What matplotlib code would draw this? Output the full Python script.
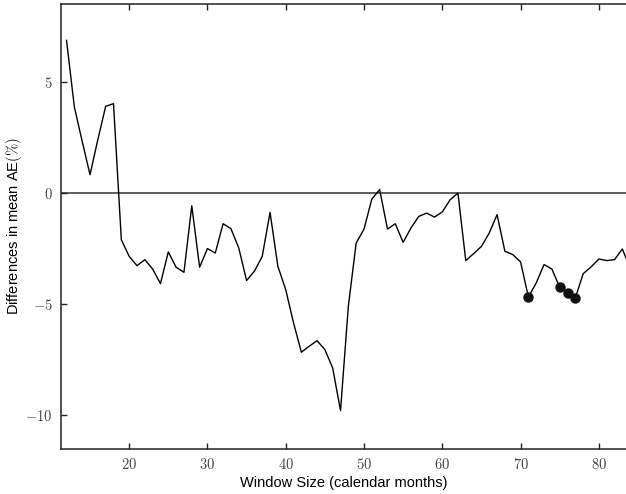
import matplotlib
matplotlib.use("Agg")
import matplotlib.pyplot as plt

# window sizes (calendar months) and differences in mean AE (%)
window = list(range(12, 85))
diff = [6.86, 3.86, 2.31, 0.81, 2.39, 3.89, 4.01, -2.12, -2.87, -3.29,
        -3.02, -3.44, -4.10, -2.67, -3.36, -3.59, -0.59, -3.36, -2.52, -2.72,
        -1.40, -1.62, -2.49, -3.96, -3.54, -2.87, -0.89, -3.32, -4.37, -5.87,
        -7.19, -6.92, -6.67, -7.07, -7.90, -9.82, -5.12, -2.27, -1.64, -0.29,
        0.14, -1.64, -1.40, -2.24, -1.59, -1.07, -0.92, -1.10, -0.87, -0.32,
        -0.02, -3.06, -2.75, -2.42, -1.82, -0.99, -2.64, -2.79, -3.12, -4.70,
        -4.07, -3.24, -3.44, -4.26, -4.52, -4.74, -3.65, -3.35, -2.99, -3.06,
        -3.02, -2.54, -3.39]
# highlighted windows
marked = [71, 75, 76, 77]

xticks = [20, 30, 40, 50, 60, 70, 80]
yticks = [-10, -5, 0, 5]

plt.rcParams['mathtext.fontset'] = 'cm'
plt.rcParams['font.family'] = ['Liberation Sans', 'DejaVu Sans']

fig = plt.figure(figsize=(6.26, 4.94), dpi=100)
ax = fig.add_axes([0.0974, 0.0911, 0.9026, 0.9008])

ax.axhline(0, color='#333333', lw=1.1, zorder=1)
ax.plot(window, diff, color='black', lw=1.0, zorder=2)
mk = [diff[window.index(w)] for w in marked]
ax.plot(marked, mk, 'o', color='#111111', ms=6.5, zorder=3)

ax.set_xlim(11.29, 83.47)
ax.set_ylim(-11.55, 8.5)

ax.set_xticks(xticks)
ax.set_xticklabels([f"${v}$" for v in xticks], fontsize=10.5, color='#444444')
ax.set_yticks(yticks)
ax.set_yticklabels([f"${v}$" for v in yticks], fontsize=10.5, color='#444444')
ax.tick_params(direction='in', top=True, right=False, length=4, width=1,
               colors='#222222', labelcolor='#444444', pad=6)
ax.spines['right'].set_visible(False)
for s in ['left', 'top', 'bottom']:
    ax.spines[s].set_linewidth(1.1)
    ax.spines[s].set_color('#222222')

ax.set_xlabel("Window Size (calendar months)", fontsize=10.5, labelpad=3)
ax.set_ylabel(r"Differences in mean AE$(\%)$", fontsize=10.5, labelpad=1)

fig.savefig("out.png", dpi=100)
